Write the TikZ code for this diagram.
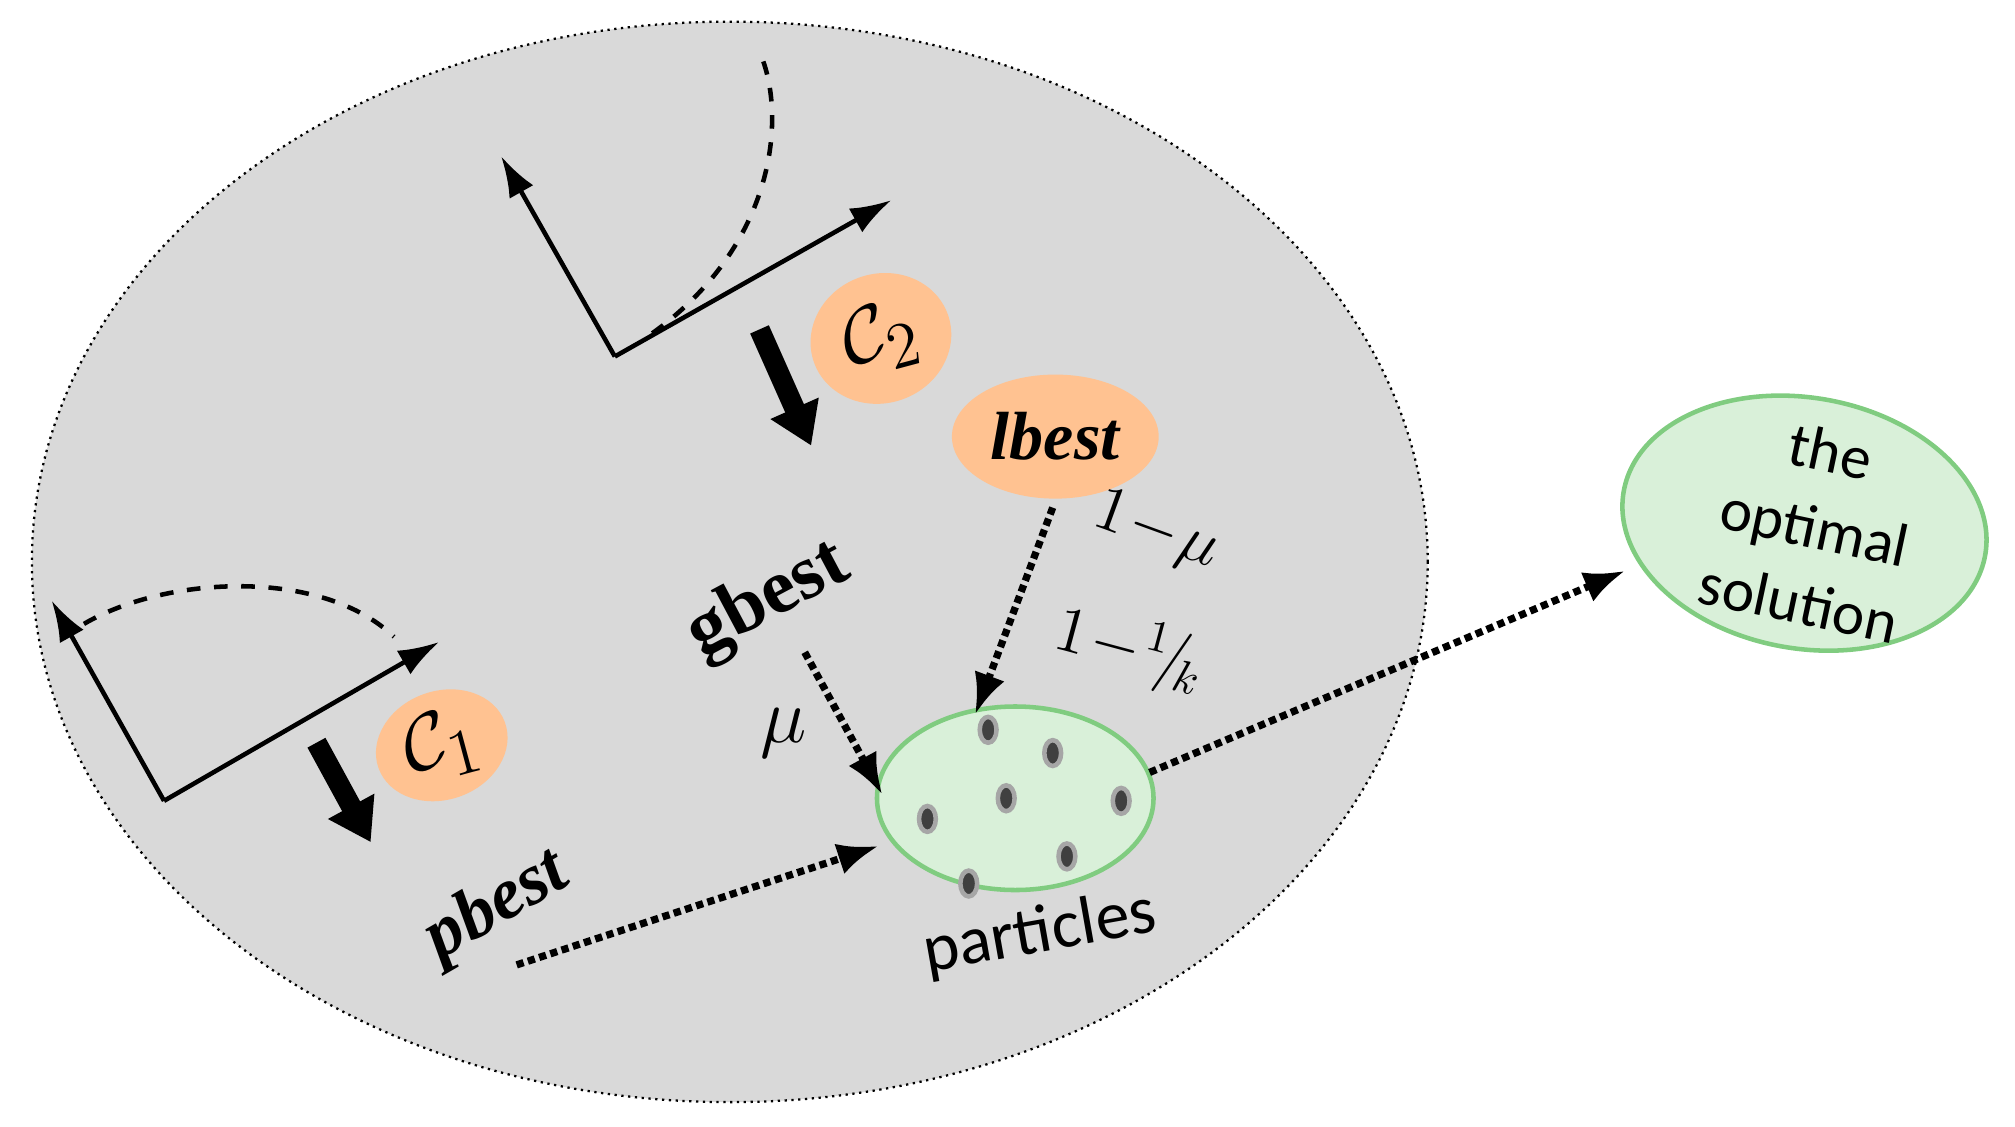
\documentclass[tikz,border=0pt]{standalone}
\usepackage{fontspec}
\setmainfont{Liberation Serif}
\newfontfamily\calfont{Carlito}
\usetikzlibrary{shapes.geometric,arrows.meta}
\begin{document}
\begin{tikzpicture}[x=0.01cm,y=-0.01cm,
  dotarr/.style={densely dotted,line width=1.6pt,-{Latex[length=9pt,width=7pt]}},
  axarr/.style={line width=1pt,-{Latex[length=9pt,width=6pt]}},
  thick arr/.style={line width=4.5pt,-{Triangle[length=9pt,width=11pt]}},
  orange/.style={ellipse,fill=orange!40!white!95!red,draw=none,inner sep=0pt},
  greenell/.style={ellipse,fill=green!60!black!15,draw=green!60!black!50,line width=1pt,inner sep=0pt},
  dot/.style={ellipse,fill=black!75,draw=black!35,line width=1pt,minimum width=0.13cm,minimum height=0.2cm,inner sep=0pt}]
\useasboundingbox (0,0) rectangle (1560,872);
\draw[fill=black!15,densely dotted,line width=0.5pt] (565,435) ellipse [x radius=5.4cm,y radius=4.18cm];
% axes
\coordinate (o1) at (127,620); \coordinate (t1) at (40,465); \coordinate (r1) at (340,497);
\draw[axarr] (o1) -- (t1); \draw[axarr] (o1) -- (r1);
\draw[dashed,line width=1pt] (65,483) .. controls (130,445) and (250,440) .. (305,493);
\coordinate (o2) at (476,276); \coordinate (t2) at (388,121); \coordinate (r2) at (690,155);
\draw[axarr] (o2) -- (t2); \draw[axarr] (o2) -- (r2);
\draw[dashed,line width=1pt] (505,258) .. controls (600,190) and (610,90) .. (588,40);
% thick arrows
\coordinate (a1) at (245,575); \coordinate (b1) at (287,652);
\coordinate (a2) at (588,255); \coordinate (b2) at (628,345);
\draw[thick arr] (a1) -- (b1); \draw[thick arr] (a2) -- (b2);
% orange nodes
\node[orange,minimum width=1.04cm,minimum height=0.84cm,rotate=20] (c1) at (342,577) {};
\node[rotate=15] at (342,577) {\fontsize{19}{19}\selectfont$\mathcal{C}_1$};
\node[orange,minimum width=1.1cm,minimum height=1cm,rotate=20] (c2) at (682,262) {};
\node[rotate=15] at (682,262) {\fontsize{19}{19}\selectfont$\mathcal{C}_2$};
\node[orange,minimum width=1.6cm,minimum height=0.96cm] (lb) at (817,338) {\fontsize{15}{15}\selectfont\bfseries\itshape lbest};
% texts
\node[rotate=28] (gb) at (595,465) {\fontsize{17}{17}\selectfont\bfseries gbest};
\node (mu) at (607,568) {\fontsize{19}{19}\selectfont$\mu$};
\node[rotate=30] (pb) at (385,702) {\fontsize{16}{16}\selectfont\bfseries\itshape pbest};
\node[rotate=-20] (l1) at (895,412) {\fontsize{14}{14}\selectfont$1\!-\!\mu$};
\node[rotate=-15] (l2) at (875,503) {\fontsize{14}{14}\selectfont$1\!-\!{}^{1}\!\big/\!_{k}$};
% particles
\node[greenell,minimum width=2.14cm,minimum height=1.42cm] (pa) at (786,618) {};
\foreach \p in {(765,565),(815,583),(718,634),(779,618),(868,620),(826,663),(750,684)}
  \node[dot] at \p {};
\node[rotate=10] (pt) at (805,723) {\calfont\fontsize{15}{15}\selectfont particles};
\node[greenell,minimum width=2.84cm,minimum height=1.94cm,rotate=-10] (opt) at (1397,405) {};
\node[rotate=-12,align=center,font=\calfont\fontsize{13.5}{17}\selectfont] at (1405,408) {the\\optimal\\solution};
% dotted arrows
\coordinate (s1) at (400,747); \coordinate (e1) at (680,655);
\coordinate (s2) at (623,505); \coordinate (e2) at (683,615);
\coordinate (s3) at (815,393); \coordinate (e3) at (755,553);
\coordinate (s4) at (890,598); \coordinate (e4) at (1258,442);
\draw[dotarr] (s1) -- (e1); \draw[dotarr] (s2) -- (e2);
\draw[dotarr] (s3) -- (e3); \draw[dotarr] (s4) -- (e4);
\end{tikzpicture}
\end{document}
